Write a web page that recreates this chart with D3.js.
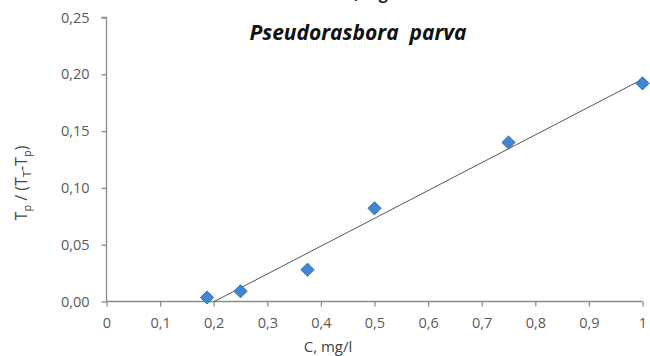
<!DOCTYPE html>
<html>
<head>
<meta charset="utf-8">
<script src="https://cdn.jsdelivr.net/npm/d3@7/dist/d3.min.js"></script>
<style>
  html, body { margin: 0; padding: 0; background: #fff; }
  svg { display: block; }
</style>
</head>
<body>
<svg id="chart" width="650" height="356"></svg>
<script>
// Concentration (mg/l) and response ratio Tp / (TT - Tp)
const concentration = [0.1875, 0.25, 0.375, 0.5, 0.75, 1.0];
const ratio = [0.0035, 0.009, 0.028, 0.082, 0.140, 0.192];
const xTicks = [0, 0.1, 0.2, 0.3, 0.4, 0.5, 0.6, 0.7, 0.8, 0.9, 1];
const yTicks = [0, 0.05, 0.10, 0.15, 0.20, 0.25];
const speciesTitle = "Pseudorasbora  parva";
const xTitle = "C, mg/l";

const svg = d3.select("#chart");
const x = d3.scaleLinear().domain([0, 1]).range([106.5, 642.5]);
const y = d3.scaleLinear().domain([0, 0.25]).range([301.5, 17.5]);

const axisColor = "#8c8c8c";
const labelColor = "#5a5a5a";
const font = "'Open Sans', 'Liberation Sans', sans-serif";

// Heading line that runs off the top edge
svg.append("text")
  .attr("x", 344).attr("y", -1.5)
  .attr("font-family", font).attr("font-size", 16).attr("font-weight", "bold")
  .attr("fill", "#222")
  .text("C, mg/l");

// Species title
svg.append("text")
  .attr("x", 358).attr("y", 40)
  .attr("text-anchor", "middle")
  .attr("font-family", "'Open Sans', sans-serif")
  .attr("font-size", 21).attr("font-weight", "bold").attr("font-style", "italic")
  .attr("fill", "#111")
  .style("white-space", "pre")
  .text(speciesTitle);

// Axes
const fmt = d => d3.format(".2f")(d).replace(".", ",");
const fmtX = d => (d === 0 || d === 1) ? String(d) : d3.format(".1f")(d).replace(".", ",");

const yAxis = svg.append("g")
  .attr("transform", `translate(${x(0)},0)`)
  .call(d3.axisLeft(y).tickValues(yTicks).tickFormat(fmt).tickSize(5).tickPadding(12));

const xAxis = svg.append("g")
  .attr("transform", `translate(0,${y(0)})`)
  .call(d3.axisBottom(x).tickValues(xTicks).tickFormat(fmtX).tickSize(5).tickPadding(11));

[xAxis, yAxis].forEach(g => {
  g.selectAll("path, line").attr("stroke", axisColor).attr("stroke-width", 1.3);
  g.selectAll("text").attr("fill", labelColor).attr("font-family", font).attr("font-size", 14.5);
});
// Excel-style outer tick at top of value axis
yAxis.select(".domain").attr("d", `M-5,${y(0.25)}H0V${y(0)}`);
xAxis.select(".domain").attr("d", `M${x(0)},0H${x(1)}`);

// Axis titles
svg.append("text")
  .attr("x", 328).attr("y", 352)
  .attr("text-anchor", "middle")
  .attr("font-family", font).attr("font-size", 15)
  .attr("fill", "#444")
  .text(xTitle);

const yt = svg.append("text")
  .attr("transform", "translate(27,183) rotate(-90)")
  .attr("text-anchor", "middle")
  .attr("font-family", font).attr("font-size", 16)
  .attr("fill", "#444");
yt.append("tspan").text("T");
yt.append("tspan").attr("font-size", 11).attr("dy", 4).text("p");
yt.append("tspan").attr("dy", -4).text(" / (T");
yt.append("tspan").attr("font-size", 11).attr("dy", 4).text("T");
yt.append("tspan").attr("dy", -4).text("-T");
yt.append("tspan").attr("font-size", 11).attr("dy", 4).text("p");
yt.append("tspan").attr("dy", -4).text(")");

// Least-squares trend line, drawn from its x-intercept to C = 1
const mx = d3.mean(concentration), my = d3.mean(ratio);
let sxy = 0, sxx = 0;
concentration.forEach((c, i) => { sxy += (c - mx) * (ratio[i] - my); sxx += (c - mx) ** 2; });
const slope = sxy / sxx, intercept = my - slope * mx;
const x0 = -intercept / slope;
svg.append("line")
  .attr("x1", x(x0)).attr("y1", y(0))
  .attr("x2", x(1)).attr("y2", y(slope + intercept))
  .attr("stroke", "#444").attr("stroke-width", 0.9);

// Diamond markers
const diamond = d3.symbol().type(d3.symbolDiamond2).size(110);
svg.append("g").selectAll("path")
  .data(concentration.map((c, i) => [c, ratio[i]]))
  .join("path")
  .attr("transform", d => `translate(${x(d[0])},${y(d[1])})`)
  .attr("d", diamond)
  .attr("fill", "#3f87d2")
  .attr("stroke", "#2e6fb5")
  .attr("stroke-width", 1);
</script>
</body>
</html>
